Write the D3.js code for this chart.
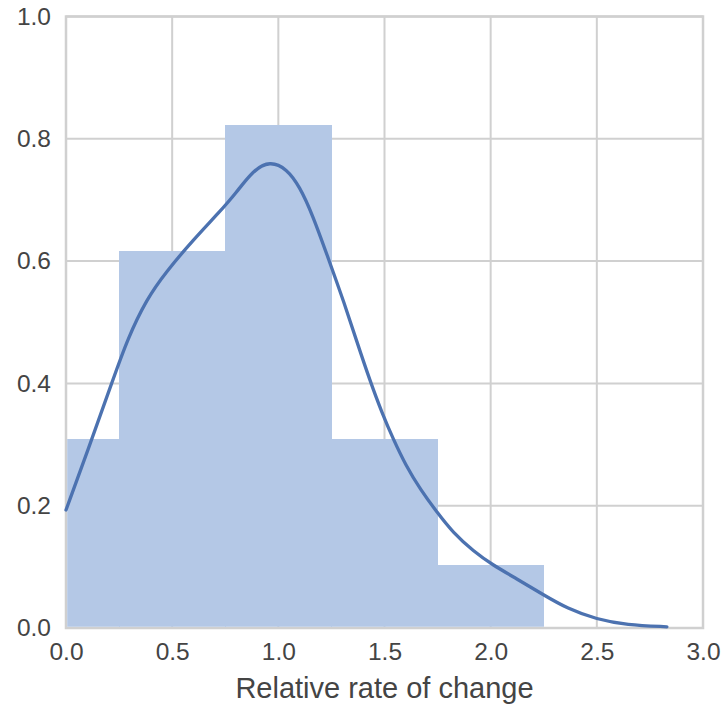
<!DOCTYPE html>
<html>
  <head>
    <meta http-equiv="Content-type" content="text/html; charset=utf-8"/>
    <title>Histogram with KDE</title>
    <script src="https://d3js.org/d3.v7.min.js"></script>
    <style>
      body{
        margin: 0;
        background: #fff;
      }
      text{
        font-family: "Liberation Sans", Arial, sans-serif;
        fill: #444;
      }
    </style>
  </head>
  <body>
    <svg width="723" height="704"></svg>
    <script>
      // histogram bins (edges) and density heights
      var binEdges = [-0.25, 0.25, 0.75, 1.25, 1.75, 2.25];
      var binHeights = [0.309, 0.617, 0.822, 0.309, 0.103];

      // kde curve
      var kdeX = [0, 0.12, 0.22, 0.29, 0.38, 0.47, 0.6, 0.725, 0.8, 0.88, 0.96, 1.04, 1.1, 1.16,
                  1.24, 1.31, 1.37, 1.43, 1.49, 1.54, 1.6, 1.67, 1.75, 1.82, 1.92, 2.01, 2.12,
                  2.25, 2.36, 2.5, 2.64, 2.83];
      var kdeY = [0.193, 0.307, 0.405, 0.473, 0.538, 0.582, 0.635, 0.681, 0.711, 0.748, 0.764, 0.751, 0.722, 0.677,
                  0.6, 0.532, 0.468, 0.406, 0.35, 0.31, 0.266, 0.226, 0.188, 0.157, 0.125, 0.103, 0.081,
                  0.054, 0.032, 0.014, 0.005, 0.002];

      var xTicks = [0, 0.5, 1.0, 1.5, 2.0, 2.5, 3.0];
      var yTicks = [0, 0.2, 0.4, 0.6, 0.8, 1.0];

      var svg = d3.select("svg"),
          margin = {top: 16.5, right: 20, bottom: 76, left: 66},
          width = 703 - margin.left,
          height = 628 - margin.top,
          g = svg.append("g").attr("transform", "translate(" + margin.left + "," + margin.top + ")");

      var x = d3.scaleLinear().domain([0, 3]).range([0, width]);
      var y = d3.scaleLinear().domain([0, 1]).range([height, 0]);

      // grid
      g.append("g")
        .selectAll("line")
        .data(xTicks)
        .join("line")
          .attr("x1", function(d) { return x(d); })
          .attr("x2", function(d) { return x(d); })
          .attr("y1", 0)
          .attr("y2", height)
          .attr("stroke", "#d0d0d0")
          .attr("stroke-width", 2);

      g.append("g")
        .selectAll("line")
        .data(yTicks)
        .join("line")
          .attr("x1", 0)
          .attr("x2", width)
          .attr("y1", function(d) { return y(d); })
          .attr("y2", function(d) { return y(d); })
          .attr("stroke", "#d0d0d0")
          .attr("stroke-width", 2);

      // frame
      g.append("rect")
          .attr("x", 0).attr("y", 0)
          .attr("width", width).attr("height", height)
          .attr("fill", "none")
          .attr("stroke", "#d0d0d0")
          .attr("stroke-width", 2.5);

      // bars, clipped to the plot area
      svg.append("clipPath").attr("id", "plotclip")
        .append("rect")
          .attr("x", 1.2).attr("y", 0)
          .attr("width", width - 1.2).attr("height", height - 1.2);

      var bins = binHeights.map(function(h, i) { return [binEdges[i], binEdges[i + 1], h]; });

      g.append("g")
          .attr("clip-path", "url(#plotclip)")
          .attr("shape-rendering", "crispEdges")
        .selectAll("rect")
        .data(bins)
        .join("rect")
          .attr("x", function(d) { return x(d[0]); })
          .attr("width", function(d) { return x(d[1]) - x(d[0]) + 0.5; })
          .attr("y", function(d) { return y(d[2]); })
          .attr("height", function(d) { return y(0) - y(d[2]); })
          .attr("fill", "#b4c8e6");

      // kde
      var line = d3.line()
          .curve(d3.curveBasis)
          .x(function(d) { return x(d[0]); })
          .y(function(d) { return y(d[1]); });

      g.append("path")
          .datum(kdeX.map(function(v, i) { return [v, kdeY[i]]; }))
          .attr("fill", "none")
          .attr("stroke", "#4c72b0")
          .attr("stroke-width", 3.3)
          .attr("stroke-linejoin", "round")
          .attr("stroke-linecap", "round")
          .attr("d", line);

      // axes
      var xAxis = g.append("g")
          .attr("transform", "translate(0," + height + ")")
          .call(d3.axisBottom(x).tickValues(xTicks).tickFormat(d3.format(".1f")).tickSize(0).tickPadding(15));
      xAxis.select(".domain").remove();
      xAxis.selectAll("text").style("font-size", "24.5px").attr("fill", "#444");

      var yAxis = g.append("g")
          .call(d3.axisLeft(y).tickValues(yTicks).tickFormat(d3.format(".1f")).tickSize(0).tickPadding(15));
      yAxis.select(".domain").remove();
      yAxis.selectAll("text").style("font-size", "24.5px").attr("fill", "#444");

      g.append("text")
          .attr("x", width / 2)
          .attr("y", height + 70)
          .attr("text-anchor", "middle")
          .style("font-size", "29px")
          .text("Relative rate of change");
    </script>
  </body>
</html>
